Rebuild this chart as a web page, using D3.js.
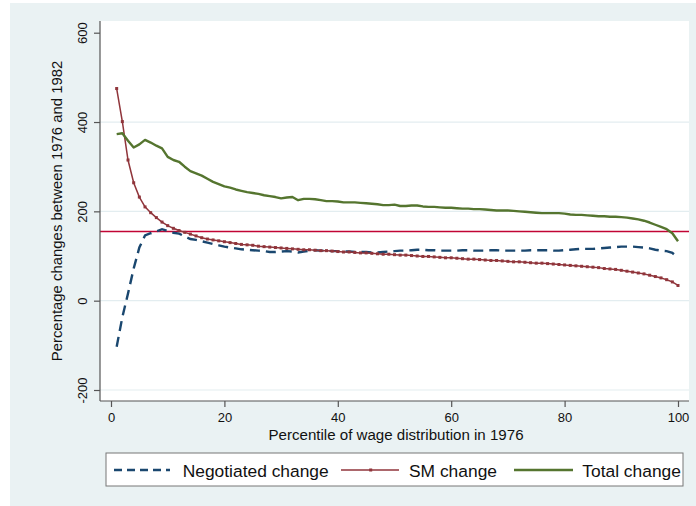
<!DOCTYPE html>
<html>
<head>
<meta charset="utf-8">
<script src="https://cdn.jsdelivr.net/npm/d3@7"></script>
<style>
  html, body { margin: 0; padding: 0; background: #ffffff; }
  svg { display: block; font-family: "Liberation Sans", Arial, Helvetica, sans-serif; }
</style>
</head>
<body>
<svg id="chart" width="696" height="506"></svg>
<script>
// ---------------- DATA ----------------
const percentiles = d3.range(1, 101);

const negotiatedChange = [
  -103, -37, 16, 72, 119, 146, 151, 155, 160, 156,
  152, 150, 144, 138, 136, 133, 130, 127, 124, 121,
  119, 117, 115, 114, 113, 112, 111, 109, 109, 110,
  111, 110, 108, 110, 112, 113, 112, 112, 111, 111,
  110, 110, 109, 109, 109, 108, 108, 109, 110, 111,
  112, 112, 113, 114, 114, 113, 113, 112, 112, 112,
  112, 113, 113, 112, 112, 112, 113, 113, 112, 112,
  112, 112, 112, 113, 113, 113, 113, 112, 112, 113,
  114, 115, 116, 116, 116, 117, 118, 119, 120, 121,
  121, 121, 120, 119, 117, 114, 112, 111, 107, 96
];

const smChange = [
  475, 401, 315, 264, 232, 210, 197, 186, 176, 168,
  162, 157, 153, 149, 145, 141, 138, 136, 134, 132,
  130, 128, 126, 125, 124, 122, 121, 120, 119, 118,
  117, 116, 115, 114, 114, 113, 112, 112, 111, 110,
  109, 109, 108, 107, 107, 106, 105, 104, 104, 103,
  102, 102, 101, 100, 99, 99, 98, 97, 96, 96,
  95, 94, 93, 93, 92, 91, 90, 90, 89, 88,
  87, 87, 86, 85, 84, 84, 83, 82, 81, 80,
  79, 78, 77, 76, 75, 74, 72, 71, 70, 68,
  66, 64, 62, 60, 57, 54, 51, 47, 42, 34
];

const totalChange = [
  373, 375, 358, 343, 350, 360, 354, 347, 341, 322,
  315, 311, 300, 290, 285, 280, 273, 266, 261, 256,
  253, 249, 246, 243, 241, 239, 236, 234, 232, 229,
  231, 232, 225, 228, 228, 227, 225, 223, 223, 222,
  220, 220, 220, 219, 218, 217, 216, 214, 214, 215,
  212, 212, 213, 213, 211, 210, 210, 209, 208, 208,
  207, 206, 206, 205, 205, 204, 203, 202, 202, 202,
  201, 200, 199, 198, 197, 196, 196, 196, 196, 195,
  193, 192, 192, 191, 190, 189, 189, 188, 188, 187,
  186, 184, 182, 179, 175, 170, 165, 160, 151, 133
];

const referenceLine = 155;

const xTicks = [0, 20, 40, 60, 80, 100];
const yTicks = [-200, 0, 200, 400, 600];
const yGrid = [-200, 0, 200, 400];

const xTitle = "Percentile of wage distribution in 1976";
const yTitle = "Percentage changes between 1976 and 1982";
const legendLabels = ["Negotiated change", "SM change", "Total change"];

// ---------------- COLORS ----------------
const navy = "#1a476f";
const maroon = "#90353b";
const green = "#55752f";
const cranberry = "#c10534";
const bg = "#eaf2f3";

// ---------------- LAYOUT ----------------
const svg = d3.select("#chart");
const plot = { left: 100, right: 689, top: 21, bottom: 401 };

const x = d3.scaleLinear().domain([0, 100]).range([111, 678]);
const y = d3.scaleLinear().domain([-200, 600]).range([390, 32.7]);

// outer graph region
svg.append("rect").attr("x", 10).attr("y", 3).attr("width", 686).attr("height", 503).attr("fill", bg);
// plot region
svg.append("rect").attr("x", plot.left).attr("y", plot.top)
  .attr("width", plot.right - plot.left).attr("height", plot.bottom - plot.top).attr("fill", "#ffffff");

// gridlines
svg.append("g").selectAll("line").data(yGrid).join("line")
  .attr("x1", plot.left).attr("x2", plot.right)
  .attr("y1", d => y(d)).attr("y2", d => y(d))
  .attr("stroke", "#e3edf0").attr("stroke-width", 1.2);

// reference line
svg.append("line")
  .attr("x1", plot.left).attr("x2", plot.right)
  .attr("y1", y(referenceLine)).attr("y2", y(referenceLine))
  .attr("stroke", cranberry).attr("stroke-width", 1.6);

const rows = percentiles.map((p, i) => ({ p, neg: negotiatedChange[i], sm: smChange[i], tot: totalChange[i] }));

const lineOf = key => d3.line().x(d => x(d.p)).y(d => y(d[key]));

svg.append("path").datum(rows).attr("d", lineOf("neg"))
  .attr("fill", "none").attr("stroke", navy).attr("stroke-width", 2.4)
  .attr("stroke-dasharray", "10,6");

svg.append("path").datum(rows).attr("d", lineOf("sm"))
  .attr("fill", "none").attr("stroke", maroon).attr("stroke-width", 1.5);
svg.append("g").selectAll("rect").data(rows).join("rect")
  .attr("x", d => x(d.p) - 1.5).attr("y", d => y(d.sm) - 1.5)
  .attr("width", 3).attr("height", 3).attr("fill", maroon);

svg.append("path").datum(rows).attr("d", lineOf("tot"))
  .attr("fill", "none").attr("stroke", green).attr("stroke-width", 2.4)
  .attr("stroke-linejoin", "round");

// axes
const axisColor = "#555";
const yAxis = svg.append("g").attr("transform", `translate(${plot.left},0)`)
  .call(d3.axisLeft(y).tickValues(yTicks).tickSize(6).tickSizeOuter(0).tickFormat(d => String(d)));
yAxis.select(".domain").attr("d", `M0,${plot.top}V${plot.bottom}`).attr("stroke", axisColor).attr("stroke-width", 1.2);
yAxis.selectAll(".tick line").attr("stroke", axisColor).attr("stroke-width", 1.2);
yAxis.selectAll(".tick text")
  .attr("transform", "rotate(-90)").attr("x", 0).attr("y", -12.7).attr("dy", null)
  .attr("text-anchor", "middle").attr("font-size", 13).attr("fill", "#111")
  .style("font-family", "Liberation Sans, Arial, sans-serif");

const xAxis = svg.append("g").attr("transform", `translate(0,${plot.bottom})`)
  .call(d3.axisBottom(x).tickValues(xTicks).tickSize(6).tickSizeOuter(0).tickFormat(d => String(d)));
xAxis.select(".domain").attr("d", `M${plot.left},0H${plot.right}`).attr("stroke", axisColor).attr("stroke-width", 1.2);
xAxis.selectAll(".tick line").attr("stroke", axisColor).attr("stroke-width", 1.2);
xAxis.selectAll(".tick text").attr("y", 12).attr("dy", "0.71em")
  .attr("font-size", 13).attr("fill", "#111")
  .style("font-family", "Liberation Sans, Arial, sans-serif");

// titles
svg.append("text").attr("x", 396).attr("y", 440).attr("text-anchor", "middle")
  .attr("font-size", 15.1).attr("fill", "#111").text(xTitle);
svg.append("text").attr("transform", `translate(61.5,211) rotate(-90)`).attr("text-anchor", "middle")
  .attr("font-size", 14.9).attr("fill", "#111").text(yTitle);

// legend
const lg = svg.append("g");
lg.append("rect").attr("x", 106).attr("y", 453).attr("width", 577).attr("height", 33)
  .attr("fill", "#fff").attr("stroke", "#777").attr("stroke-width", 1);
const ly = 470;
lg.append("line").attr("x1", 114).attr("x2", 170).attr("y1", ly).attr("y2", ly)
  .attr("stroke", navy).attr("stroke-width", 2.4).attr("stroke-dasharray", "8,5");
lg.append("line").attr("x1", 341).attr("x2", 399).attr("y1", ly).attr("y2", ly)
  .attr("stroke", maroon).attr("stroke-width", 1.5);
lg.append("rect").attr("x", 370.7 - 1.5).attr("y", ly - 1.5).attr("width", 3).attr("height", 3).attr("fill", maroon);
lg.append("line").attr("x1", 514).attr("x2", 573).attr("y1", ly).attr("y2", ly)
  .attr("stroke", green).attr("stroke-width", 2.4);
const labelX = [182.7, 409, 582.3];
lg.selectAll("text.lab").data(legendLabels).join("text").attr("class", "lab")
  .attr("x", (d, i) => labelX[i]).attr("y", 476.5)
  .attr("font-size", 17.4).attr("fill", "#111").text(d => d);
</script>
</body>
</html>
